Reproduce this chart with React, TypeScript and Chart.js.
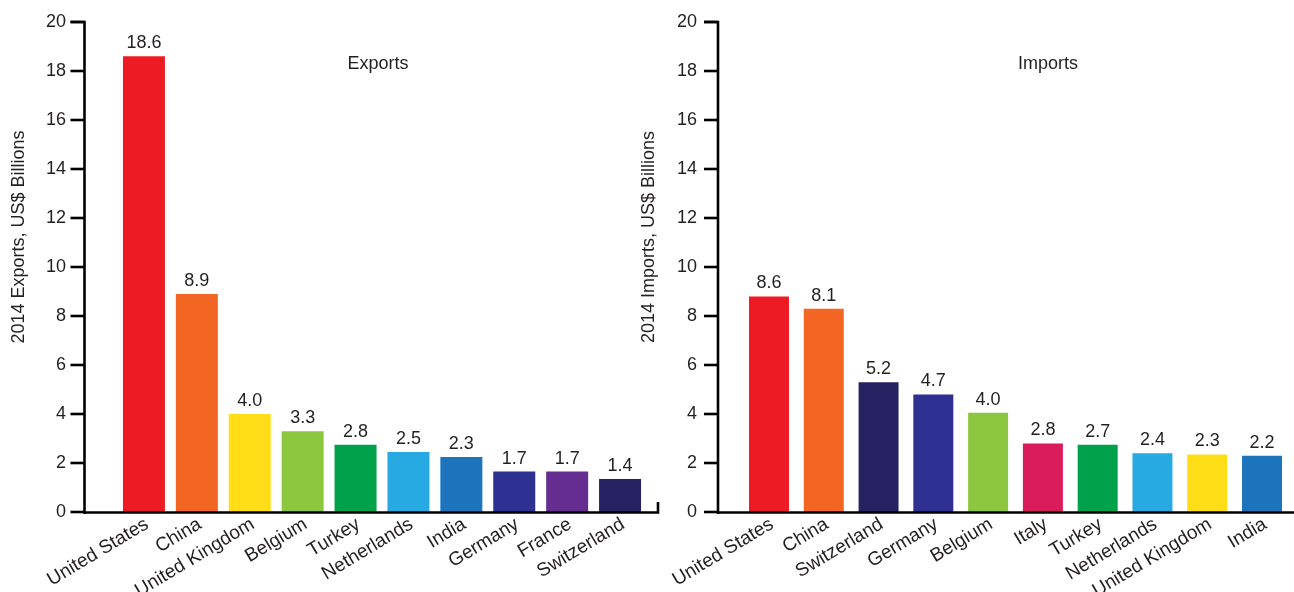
import React, { useEffect, useRef } from 'react';
import { Chart, registerables } from 'chart.js';

Chart.register(...registerables);

const exportCountries = ['United States', 'China', 'United Kingdom', 'Belgium', 'Turkey', 'Netherlands', 'India', 'Germany', 'France', 'Switzerland'];
const exportValues = [18.6, 8.9, 4.0, 3.3, 2.75, 2.45, 2.25, 1.65, 1.65, 1.35];
const exportLabels = ['18.6', '8.9', '4.0', '3.3', '2.8', '2.5', '2.3', '1.7', '1.7', '1.4'];
const exportColors = ['#ED1C24', '#F26522', '#FFDE17', '#8DC63F', '#00A14B', '#27AAE1', '#1C75BC', '#2E3192', '#662D91', '#262262'];

const importCountries = ['United States', 'China', 'Switzerland', 'Germany', 'Belgium', 'Italy', 'Turkey', 'Netherlands', 'United Kingdom', 'India'];
const importValues = [8.8, 8.3, 5.3, 4.8, 4.05, 2.8, 2.75, 2.4, 2.35, 2.3];
const importLabels = ['8.6', '8.1', '5.2', '4.7', '4.0', '2.8', '2.7', '2.4', '2.3', '2.2'];
const importColors = ['#ED1C24', '#F26522', '#262262', '#2E3192', '#8DC63F', '#DA1C5C', '#00A14B', '#27AAE1', '#FFDE17', '#1C75BC'];

const yMin = 0;
const yMax = 20;
const yStep = 2;

const FONT = '"Liberation Sans", Arial, Helvetica, sans-serif';
const TEXT = '#231F20';

type Cfg = {
  canvasLeft: number;
  canvasWidth: number;
  plotLeft: number;
  plotRight: number;
  axisX: number;
  xEnd: number;
  endTick: boolean;
  labelGap: number;
  barPct: number;
  titleX: number;
  title: string;
  yTitle: string;
};

function Panel({ countries, values, labels, colors, cfg }: { countries: string[]; values: number[]; labels: string[]; colors: string[]; cfg: Cfg }) {
  const ref = useRef<HTMLCanvasElement>(null);
  useEffect(() => {
    if (!ref.current) return;
    const H = 592;
    const overlay = {
      id: 'overlay',
      afterDraw(chart: any) {
        const ctx = chart.ctx;
        const ys = chart.scales.y;
        const top = ys.getPixelForValue(yMax);
        const bottom = ys.getPixelForValue(yMin);
        ctx.save();
        ctx.strokeStyle = '#000';
        ctx.lineWidth = 2.6;
        ctx.lineCap = 'butt';
        ctx.lineJoin = 'miter';
        ctx.beginPath();
        ctx.moveTo(cfg.axisX - 14, top);
        ctx.lineTo(cfg.axisX, top);
        ctx.lineTo(cfg.axisX, bottom + 2);
        ctx.stroke();
        ys.ticks.forEach((t: any) => {
          const py = ys.getPixelForValue(t.value);
          ctx.beginPath();
          ctx.moveTo(cfg.axisX - 14, py);
          ctx.lineTo(cfg.axisX, py);
          ctx.stroke();
        });
        ctx.beginPath();
        ctx.moveTo(cfg.axisX, bottom + 0.5);
        ctx.lineTo(cfg.xEnd, bottom + 0.5);
        if (cfg.endTick) ctx.lineTo(cfg.xEnd, bottom - 10);
        ctx.stroke();
        ctx.fillStyle = TEXT;
        ctx.font = `18px ${FONT}`;
        ctx.textAlign = 'center';
        ctx.textBaseline = 'alphabetic';
        const meta = chart.getDatasetMeta(0);
        meta.data.forEach((bar: any, i: number) => {
          ctx.fillText(labels[i], bar.x, bar.y - 8);
        });
        ctx.font = `18px ${FONT}`;
        ctx.textBaseline = 'middle';
        ctx.fillText(cfg.title, cfg.titleX, 64);
        ctx.translate(19, 237);
        ctx.rotate(-Math.PI / 2);
        ctx.textAlign = 'center';
        ctx.textBaseline = 'middle';
        ctx.fillText(cfg.yTitle, 0, 0);
        ctx.restore();
      },
    };
    const chart = new Chart(ref.current, {
      type: 'bar',
      data: {
        labels: countries,
        datasets: [
          {
            data: values,
            backgroundColor: colors,
            borderWidth: 0,
            barPercentage: cfg.barPct,
            categoryPercentage: 1,
          },
        ],
      },
      options: {
        responsive: false,
        animation: false,
        devicePixelRatio: 1,
        layout: { padding: { top: 22, left: 0, right: cfg.canvasWidth - cfg.plotRight, bottom: 0 } },
        plugins: { legend: { display: false }, tooltip: { enabled: false }, title: { display: false } },
        scales: {
          x: {
            type: 'category',
            offset: true,
            grid: { display: false, drawTicks: false },
            border: { display: false },
            ticks: {
              autoSkip: false,
              maxRotation: 31,
              minRotation: 31,
              padding: 1,
              labelOffset: 3,
              color: TEXT,
              font: { family: FONT, size: 19 },
            },
            afterFit: (s: any) => {
              s.height = H - 512;
            },
          },
          y: {
            min: yMin,
            max: yMax,
            grid: { display: false, drawTicks: true, tickLength: cfg.labelGap - 4 },
            border: { display: false },
            ticks: {
              stepSize: yStep,
              padding: 4,
              color: TEXT,
              font: { family: FONT, size: 18 },
            },
            afterFit: (s: any) => {
              s.width = cfg.plotLeft;
              s.paddingTop = 0;
              s.paddingBottom = 0;
            },
          },
        },
      },
      plugins: [overlay],
    });
    return () => chart.destroy();
  }, []);
  return (
    <canvas
      ref={ref}
      width={cfg.canvasWidth}
      height={592}
      style={{ position: 'absolute', left: cfg.canvasLeft, top: 0, width: cfg.canvasWidth, height: 592 }}
    />
  );
}

const leftCfg: Cfg = {
  canvasLeft: 0,
  canvasWidth: 670,
  plotLeft: 117.5,
  plotRight: 646.5,
  axisX: 84.5,
  xEnd: 658,
  endTick: true,
  labelGap: 51.5,
  barPct: 0.794,
  titleX: 378,
  title: 'Exports',
  yTitle: '2014 Exports, US$ Billions',
};

const rightCfg: Cfg = {
  canvasLeft: 630,
  canvasWidth: 664,
  plotLeft: 111.6,
  plotRight: 659.4,
  axisX: 88,
  xEnd: 664,
  endTick: false,
  labelGap: 44.6,
  barPct: 0.73,
  titleX: 418,
  title: 'Imports',
  yTitle: '2014 Imports, US$ Billions',
};

export default function App() {
  return (
    <div style={{ position: 'fixed', left: 0, top: 0, width: 1294, height: 592, background: '#fff', overflow: 'hidden' }}>
      <Panel countries={exportCountries} values={exportValues} labels={exportLabels} colors={exportColors} cfg={leftCfg} />
      <Panel countries={importCountries} values={importValues} labels={importLabels} colors={importColors} cfg={rightCfg} />
    </div>
  );
}
